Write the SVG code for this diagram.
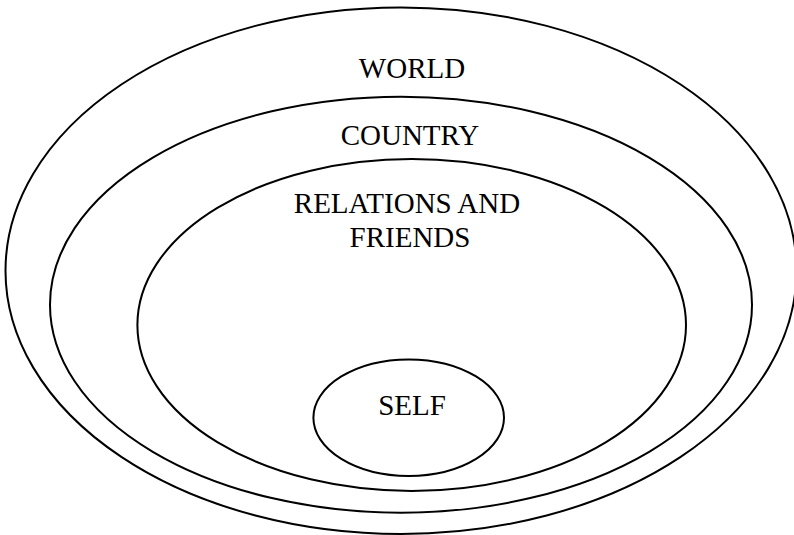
<svg xmlns="http://www.w3.org/2000/svg" width="794" height="535" viewBox="0 0 794 535">
<style>
.e{fill:none;stroke:#000;stroke-width:2}
.t{font-family:"Liberation Serif","Times New Roman",serif;font-size:29px;fill:#000;text-anchor:middle}
</style>
<rect width="794" height="535" fill="#fff"/>
<g id="world"><ellipse class="e" cx="401" cy="270.7" rx="395.5" ry="263.3"/><text class="t" x="412" y="78">WORLD</text></g>
<g id="country"><ellipse class="e" cx="401" cy="304.7" rx="351" ry="208"/><text class="t" x="410" y="145">COUNTRY</text></g>
<g id="relations"><ellipse class="e" cx="411.7" cy="325" rx="274.3" ry="166"/><text class="t" x="407" y="213">RELATIONS AND</text><text class="t" x="410" y="247">FRIENDS</text></g>
<g id="self"><ellipse class="e" cx="408.7" cy="417.7" rx="95.3" ry="58.3"/><text class="t" x="412" y="414.5">SELF</text></g>
<g id="connectors"/>
</svg>
